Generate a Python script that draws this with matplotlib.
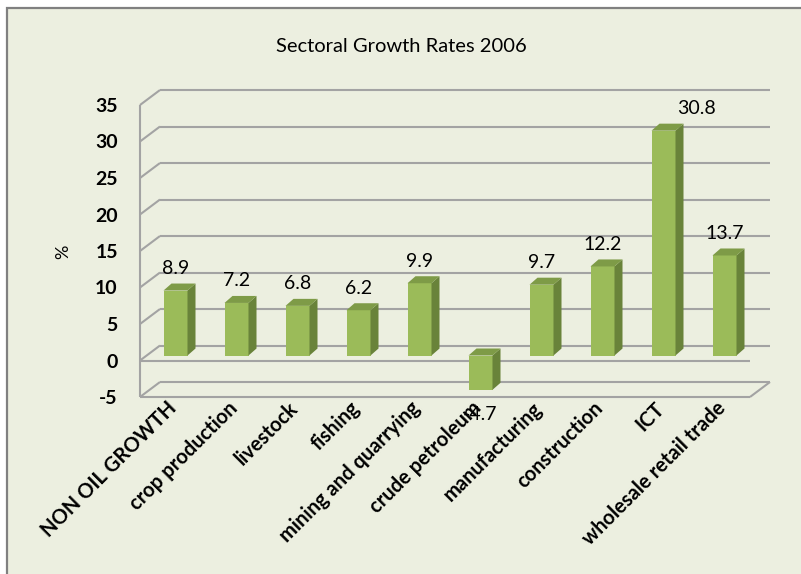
import matplotlib
matplotlib.use("Agg")
import matplotlib.pyplot as plt
from matplotlib.patches import Polygon, Rectangle

sectors = ["NON OIL GROWTH", "crop production", "livestock", "fishing",
           "mining and quarrying", "crude petroleum", "manufacturing",
           "construction", "ICT", "wholesale retail trade"]
growth = [8.9, 7.2, 6.8, 6.2, 9.9, -4.7, 9.7, 12.2, 30.8, 13.7]
yticks = [-5, 0, 5, 10, 15, 20, 25, 30, 35]

BG = "#ECEFE0"
GRID = "#A3A3A3"
FRONT = "#9BBB59"
SIDE = "#69833A"
TOP = "#7E9B47"

plt.rcParams["font.family"] = ["Lato", "DejaVu Sans"]

# pixel scale of the plot area (figure is 801x574 px at 100 dpi)
PX_X = 61.0   # px per category
PX_Y = 7.3    # px per percent point
# fake 3d depth offsets, converted to data units
WALL_DX, WALL_DY = 20 / PX_X, 15 / PX_Y
BAR_DX, BAR_DY = 5 / PX_X, 5 / PX_Y
SIDE_DX, SIDE_DY = 8 / PX_X, 7 / PX_Y
BAR_W = 24 / PX_X
LABEL_GAP = 22 / PX_Y

fig = plt.figure(figsize=(8.01, 5.74), dpi=100)
fig.patch.set_facecolor("white")
fig.add_artist(Rectangle((7 / 801, -0.05), 1.1, (574 - 8) / 574 + 0.05,
                         transform=fig.transFigure, facecolor=BG,
                         edgecolor="#808080", lw=1.6, zorder=0))

x0, x1 = -0.5, 10.0
y0, y1 = -5, 37.5
ax = fig.add_axes([140 / 801, 177 / 574, (x1 - x0) * PX_X / 801, (y1 - y0) * PX_Y / 574])
ax.set_xlim(x0, x1)
ax.set_ylim(y0, y1)
ax.set_facecolor("none")
for s in ax.spines.values():
    s.set_visible(False)
ax.set_xticks([])
ax.set_yticks(yticks)
ax.set_yticklabels([str(t) for t in yticks], fontsize=14, fontweight="bold")
ax.tick_params(axis="y", length=0, pad=16)

n = len(sectors)
left, right = -0.5, n - 0.5
gkw = dict(color=GRID, lw=1.5, solid_capstyle="butt", clip_on=False, zorder=1)

# back wall gridlines and left wall diagonals
for v in yticks:
    ax.plot([left + WALL_DX, right + WALL_DX], [v + WALL_DY] * 2, **gkw)
    ax.plot([left, left + WALL_DX], [v, v + WALL_DY], **gkw)
ax.plot([left, left], [yticks[0], yticks[-1]], **gkw)
# floor and zero line in front
ax.plot([left, right], [yticks[0]] * 2, **gkw)
ax.plot([right, right + WALL_DX], [yticks[0], yticks[0] + WALL_DY], **gkw)
ax.plot([left, right], [0, 0], **gkw)

# bars
xs = [i + BAR_DX for i in range(n)]
ax.bar(xs, growth, bottom=BAR_DY, width=BAR_W, color=FRONT, zorder=3)
for xc, v in zip(xs, growth):
    xl, xr = xc - BAR_W / 2, xc + BAR_W / 2
    b, t = BAR_DY, BAR_DY + v
    hi = max(b, t)
    ax.add_patch(Polygon([(xr, b), (xr, t), (xr + SIDE_DX, t + SIDE_DY), (xr + SIDE_DX, b + SIDE_DY)],
                         closed=True, color=SIDE, lw=0, zorder=3))
    ax.add_patch(Polygon([(xl, hi), (xr, hi), (xr + SIDE_DX, hi + SIDE_DY), (xl + SIDE_DX, hi + SIDE_DY)],
                         closed=True, color=TOP, lw=0, zorder=3))

# value labels
nudge = {8: 33 / PX_X}
for i, (xc, v) in enumerate(zip(xs, growth)):
    if v >= 0:
        ly = BAR_DY + v + LABEL_GAP
    else:
        ly = BAR_DY + v - 25 / PX_Y
    ax.text(xc + nudge.get(i, 0), ly, f"{v:.1f}", ha="center", va="center",
            fontsize=14, zorder=5)

# category labels
for i, name in enumerate(sectors):
    ax.text(i - 0.07, yticks[0] - 0.15, name, rotation=45, rotation_mode="anchor",
            ha="right", va="top", fontsize=14.5, fontweight="bold", zorder=5)

fig.text(63 / 801, 1 - 252 / 574, "%", rotation=90, ha="center", va="center", fontsize=13)
fig.text(401 / 801, 1 - 47 / 574, "Sectoral Growth Rates 2006", ha="center", va="center",
         fontsize=14.5)

fig.savefig("out.png", dpi=100)
